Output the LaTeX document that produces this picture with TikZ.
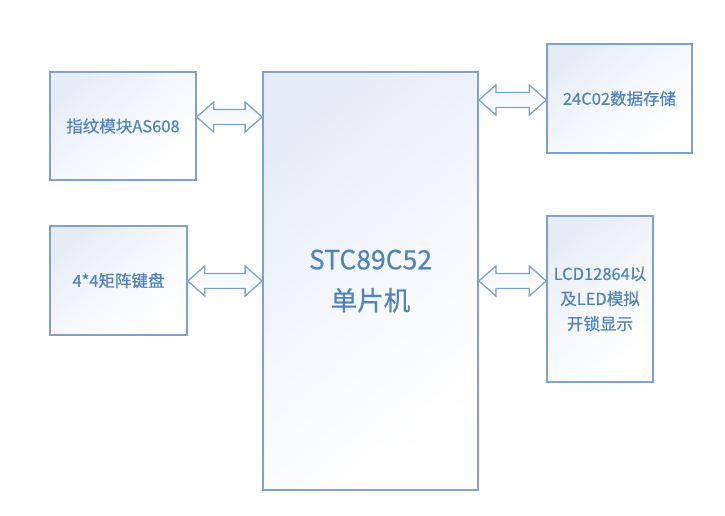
\documentclass[tikz,border=0pt]{standalone}
\usepackage{fontspec}
\setmainfont{Noto Sans CJK SC}[FakeBold=0.6]
\usetikzlibrary{calc}
\definecolor{bord}{RGB}{125,162,206}
\definecolor{txt}{RGB}{80,132,192}
\definecolor{shadetop}{RGB}{230,236,247}
\tikzset{
  box/.style={draw=bord, line width=1.4pt, top color=shadetop, bottom color=white, middle color=white!60!shadetop, shading angle=40,
    inner sep=0pt, text=txt, align=center, font=\fontsize{16.5}{25}\selectfont},
  arr/.style={draw=bord, line width=1.3pt, line join=miter, top color=shadetop!60!white, bottom color=white}
}
\newcommand\dblarr[2]{\draw[arr] let \p1=(#1), \p2=(#2) in (\p1) -- ++(17pt,15pt) -- ++(0,-7.5pt) -- (\x2-17pt,\y1+7.5pt) -- ++(0,7.5pt) -- (\p2) -- ++(-17pt,-15pt) -- ++(0,7.5pt) -- (\x1+17pt,\y1-7.5pt) -- ++(0,-7.5pt) -- cycle;}
\begin{document}
\begin{tikzpicture}[x=1pt,y=-1pt]
\useasboundingbox[fill=white] (0,0) rectangle (725,516);
\node[box, minimum width=146pt, minimum height=108pt] (fp) at (123,126) {指纹模块AS608};
\node[box, minimum width=137pt, minimum height=109pt] (kb) at (118.5,280.5) {4*4矩阵键盘};
\node[box, line width=1.8pt, minimum width=215pt, minimum height=418pt, font=\fontsize{26.5}{41}\selectfont] (mcu) at (370.5,281) {STC89C52\\单片机};
\node[box, minimum width=145pt, minimum height=109pt] (ee) at (619.5,98.5) {24C02数据存储};
\node[box, minimum width=106pt, minimum height=166pt] (lcd) at (600,299) {LCD12864以\\及LED模拟\\开锁显示};
\coordinate (a1) at (fp.east |- 0,117);
\coordinate (a2) at (mcu.west |- 0,117);
\coordinate (b1) at (kb.east |- 0,281);
\coordinate (b2) at (mcu.west |- 0,281);
\coordinate (c1) at (mcu.east |- 0,100);
\coordinate (c2) at (ee.west |- 0,100);
\coordinate (d1) at (mcu.east |- 0,281);
\coordinate (d2) at (lcd.west |- 0,281);
\dblarr{a1}{a2}
\dblarr{b1}{b2}
\dblarr{c1}{c2}
\dblarr{d1}{d2}
\end{tikzpicture}
\end{document}
